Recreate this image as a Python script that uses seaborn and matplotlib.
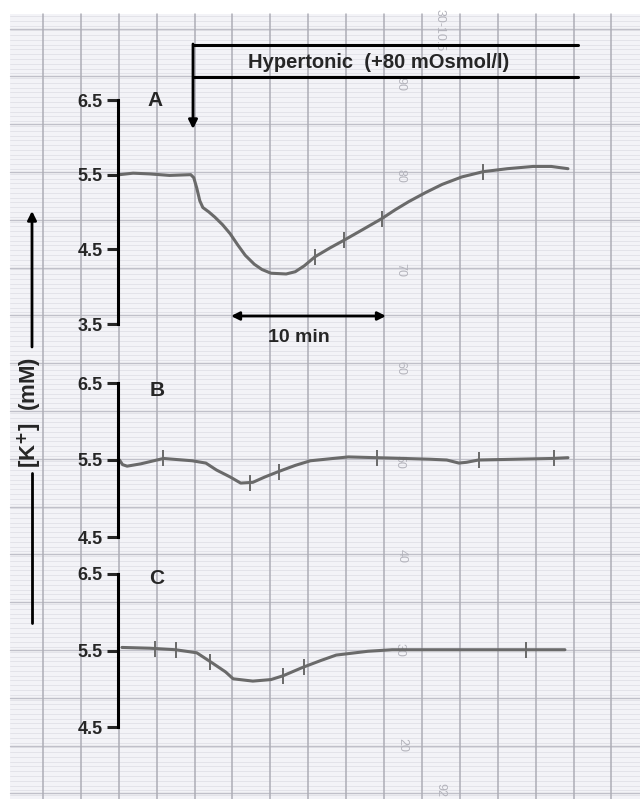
import numpy as np
import pandas as pd
import matplotlib
matplotlib.use("Agg")
import matplotlib.pyplot as plt
import seaborn as sns
from matplotlib.patches import Rectangle

sns.set_style("white")
plt.rcParams['font.family'] = ['Liberation Sans', 'DejaVu Sans']

# ---------------- data (time in min, [K+] in mM) ----------------
time_A = [0.1, 1.0, 2.1, 3.4, 4.8, 5.0, 5.2, 5.4, 5.6, 6.0, 6.4, 6.9, 7.4, 7.9, 8.4, 9.0, 9.5,
          10.1, 11.1, 11.7, 12.3, 13.0, 14.0, 14.9, 16.2, 17.4, 18.3, 19.2, 20.3,
          21.4, 22.7, 24.1, 25.7, 27.4, 28.6, 29.7]
k_A = [5.50, 5.52, 5.51, 5.49, 5.50, 5.46, 5.32, 5.15, 5.06, 5.00, 4.93, 4.83, 4.71, 4.56, 4.42, 4.30, 4.23,
       4.18, 4.17, 4.20, 4.28, 4.40, 4.52, 4.62, 4.77, 4.91, 5.03, 5.14, 5.26,
       5.37, 5.47, 5.54, 5.58, 5.61, 5.61, 5.58]
ticks_A = [13.0, 14.9, 17.4, 24.1]

time_B = [0.1, 0.3, 0.6, 1.5, 3.0, 4.9, 5.8, 6.5, 7.4, 8.1, 8.9, 9.7, 10.6, 11.7,
          12.7, 15.2, 17.1, 20.6, 21.7, 22.5, 23.0, 23.8, 28.7, 29.7]
k_B = [5.50, 5.44, 5.42, 5.45, 5.52, 5.49, 5.46, 5.37, 5.28, 5.20, 5.21, 5.28, 5.35, 5.43,
       5.49, 5.54, 5.53, 5.51, 5.50, 5.46, 5.47, 5.50, 5.52, 5.53]
ticks_B = [3.0, 8.7, 10.6, 17.1, 23.8, 28.8]

time_C = [0.26, 2.1, 3.8, 5.2, 6.2, 7.1, 7.6, 8.9, 10.1, 10.9, 12.2, 13.4, 14.4,
          16.5, 18.1, 29.5]
k_C = [5.54, 5.53, 5.51, 5.47, 5.34, 5.22, 5.13, 5.10, 5.12, 5.17, 5.28, 5.37, 5.44,
       5.49, 5.51, 5.51]
ticks_C = [2.45, 3.8, 6.1, 10.9, 12.3, 26.9]

yticks_A = [3.5, 4.5, 5.5, 6.5]
yticks_BC = [4.5, 5.5, 6.5]
panel_labels = ["A", "B", "C"]

# ---------------- figure ----------------
W, H = 640, 799
fig = plt.figure(figsize=(6.4, 7.99), dpi=100)
bg = fig.add_axes([0, 0, 1, 1])
bg.set_xlim(0, W)
bg.set_ylim(H, 0)
bg.axis('off')

# chart-recorder paper
bg.add_patch(Rectangle((10, 14), W - 10, H - 14, fc='#f3f3f7', ec='none', zorder=0))
for y in np.arange(16, H, 4.78):
    bg.plot([10, W], [y, y], color='#e0e0e7', lw=0.6, zorder=1)
for y in np.arange(28.5, H, 47.8):
    bg.plot([10, W], [y, y], color='#c0c0c9', lw=1.0, zorder=1)
for x in np.arange(42.9, W, 37.9):
    bg.plot([x, x], [14, H], color='#adadb6', lw=1.1, zorder=1)

# faint printed numbers on the paper
for txt, (xx, yy) in zip(["90", "80", "70", "60", "50", "40", "30", "20", "92", "30-10.5"],
                         [(400, 84), (400, 176), (400, 270), (400, 368), (400, 462),
                          (402, 556), (400, 650), (402, 745), (440, 790), (440, 30)]):
    bg.text(xx, yy, txt, rotation=-90, ha='center', va='center', fontsize=9,
            color='#b4b4bc', zorder=2)

PX_PER_MIN = 15.15
X0, X1 = 118, 600
trace_col = '#6a6a6a'


def make_axes(top, bottom, ymin, ymax, yt):
    ax = fig.add_axes([X0 / W, 1 - bottom / H, (X1 - X0) / W, (bottom - top) / H])
    ax.set_facecolor('none')
    ax.set_xlim(0, (X1 - X0) / PX_PER_MIN)
    ax.set_ylim(ymin, ymax)
    for s in ['top', 'right', 'bottom']:
        ax.spines[s].set_visible(False)
    ax.spines['left'].set_linewidth(2.2)
    ax.spines['left'].set_color('black')
    ax.set_xticks([])
    ax.set_yticks(yt)
    ax.set_yticklabels([f"{v:.1f}" for v in yt], fontweight='bold', fontsize=13)
    ax.tick_params(axis='y', direction='out', length=8, width=2.2, pad=3, left=True)
    return ax


axA = make_axes(100, 324, 3.5, 6.5, yticks_A)
axB = make_axes(383, 537, 4.5, 6.5, yticks_BC)
axC = make_axes(574, 727, 4.5, 6.5, yticks_BC)

for ax, t, k, tk in [(axA, time_A, k_A, ticks_A), (axB, time_B, k_B, ticks_B),
                     (axC, time_C, k_C, ticks_C)]:
    df = pd.DataFrame({"t": t, "k": k})
    sns.lineplot(data=df, x="t", y="k", ax=ax, color=trace_col, lw=2.2)
    ax.plot(tk, np.interp(tk, t, k), ls='none', marker='|', ms=12, mew=1.4,
            color=trace_col)
    ax.set_xlabel('')
    ax.set_ylabel('')

# panel letters
for lab, (xx, yy) in zip(panel_labels, [(155, 100), (157, 390), (157, 578)]):
    bg.text(xx, yy, lab, ha='center', va='center', fontsize=15, fontweight='bold',
            zorder=5)

# hypertonic bar + arrow
bg.plot([193, 578], [45, 45], color='black', lw=2.2, zorder=5)
bg.plot([193, 578], [77, 77], color='black', lw=2.2, zorder=5)
bg.annotate('', xy=(193, 129), xytext=(193, 44),
            arrowprops=dict(arrowstyle='-|>', lw=2.0, color='black', mutation_scale=13,
                            shrinkA=0, shrinkB=0), zorder=5)
bg.text(379, 62, "Hypertonic  (+80 mOsmol/l)", ha='center', va='center', fontsize=14.5,
        fontweight='bold', zorder=5)

# 10 min scale bar
bg.annotate('', xy=(231, 316), xytext=(386, 316),
            arrowprops=dict(arrowstyle='<|-|>', lw=2.0, color='black', mutation_scale=12,
                            shrinkA=0, shrinkB=0), zorder=5)
bg.text(299, 337, "10 min", ha='center', va='center', fontsize=14, fontweight='bold',
        zorder=5)

# y-axis label with arrow
bg.plot([32, 32], [623, 473], color='black', lw=2.0, zorder=5)
bg.annotate('', xy=(32, 211), xytext=(32, 347),
            arrowprops=dict(arrowstyle='-|>', lw=2.0, color='black', mutation_scale=13,
                            shrinkA=0, shrinkB=0), zorder=5)
bg.text(30, 412, r"[K$^{\mathbf{+}}$]  (mM)", rotation=90, ha='center', va='center',
        fontsize=16, fontweight='bold', zorder=5)

fig.savefig("out.png", dpi=100)
